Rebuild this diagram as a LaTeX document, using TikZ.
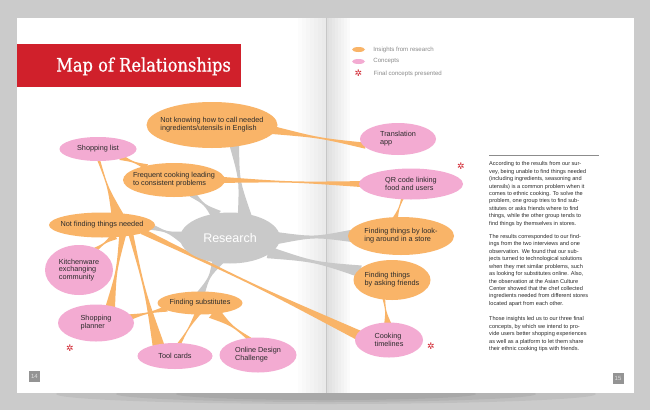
\documentclass[tikz,border=0pt]{standalone}
\usepackage{fontspec}
\setsansfont{Liberation Sans}
\newfontfamily\titlefont[FakeStretch=0.88,FakeBold=0.7]{DejaVu Serif}
\newfontfamily\symfont{DejaVu Sans}
\usetikzlibrary{shapes.geometric,calc,positioning}

\definecolor{desk}{HTML}{CBCBCB}
\definecolor{insight}{HTML}{F9B468}
\definecolor{concept}{HTML}{F3ABD2}
\definecolor{research}{HTML}{C9C9C9}
\definecolor{titlered}{HTML}{D0202B}
\definecolor{ink}{HTML}{2B2B2B}
\definecolor{keytext}{HTML}{8A8A8A}

\pgfdeclarelayer{paper}
\pgfdeclarelayer{links}
\pgfsetlayers{paper,links,main}

\tikzset{
  insight node/.style={ellipse, fill=insight, inner sep=0pt},
  concept node/.style={ellipse, fill=concept, inner sep=0pt},
  hub node/.style={ellipse, fill=research, inner sep=0pt, text=white,
    font=\sffamily\fontsize{12.5}{14}\selectfont},
  oval/.style 2 args={minimum width=#1, minimum height=#2},
  map text/.style={font=\sffamily\fontsize{7.3}{7.8}\selectfont, align=left,
    text=ink, inner sep=0pt},
  final mark/.style={text=titlered, font=\symfont\fontsize{9}{9}\selectfont, inner sep=0pt},
  key text/.style={font=\sffamily\fontsize{6.1}{7}\selectfont, text=keytext, inner sep=0pt},
  column text/.style={font=\sffamily\fontsize{5.6}{7.45}\selectfont, align=left,
    text=ink, inner sep=0pt, anchor=north west},
  page number/.style={fill=black!42, text=black!12, font=\sffamily\fontsize{6}{6}\selectfont,
    minimum size=11, inner sep=0pt},
  gray link/.style={fill=research},
  orange link/.style={fill=insight},
}

% branch of the map: from, to, half width at from, half width at to, style
\newcommand\mapbranch[5]{%
  \coordinate (br from) at ($(#1)!-3pt!(#2)$);
  \coordinate (br to) at ($(#2)!-3pt!(#1)$);
  \fill[#5] ($(br from)!#3pt!90:(br to)$) .. controls ($(br from)!0.5!(br to)$) .. ($(br to)!#4pt!-90:(br from)$)
    -- ($(br to)!#4pt!90:(br from)$) .. controls ($(br from)!0.5!(br to)$) .. ($(br from)!#3pt!-90:(br to)$) -- cycle;}

\begin{document}
\begin{tikzpicture}[x=1pt, y=-1pt]
  \useasboundingbox (0,0) rectangle (650,410);

  % the open book
  \begin{pgfonlayer}{paper}
    \fill[desk] (0,0) rectangle (650,410);
    \foreach \r/\h in {270/10, 210/8, 150/6}
      \fill[black, opacity=0.06] (326,394) ellipse [x radius=\r, y radius=\h];
    \fill[white] (17,17.5) rectangle (634,393);
    \foreach \w in {4,8,...,28}
      \fill[black, opacity=0.011] (326-\w,17.5) rectangle (326,393);
    \foreach \w in {3,6,...,24}
      \fill[black, opacity=0.014] (326,17.5) rectangle (326+\w,393);
    \draw[black!22, line width=0.8] (326,17.5) -- (326,393);
  \end{pgfonlayer}

  % title
  \fill[titlered] (17,44) rectangle (241,87);
  \node[anchor=base west, text=white, inner sep=0pt,
    font=\titlefont\fontsize{18.5}{20}\selectfont] (title) at (56,71.5) {Map of Relationships};

  % legend
  \node[insight node, oval={13}{5}] (keyA) at (358.5,49.5) {};
  \node[key text, right=8pt of keyA] (keyAtext) {Insights from research};
  \node[concept node, oval={13}{5}] (keyB) at (358.5,61.5) {};
  \node[key text, right=8pt of keyB] (keyBtext) {Concepts};
  \node[final mark] (keyC) at (358.5,73.5) {✲};
  \node[key text, right=11pt of keyC] (keyCtext) {Final concepts presented};

  % map
  \node[hub node, oval={100}{51}] (research) at (230,238) {Research};
  \node[insight node, oval={131}{46}, label={[map text]center:{Not knowing how to call needed\\ingredients/utensils in English}}] (know) at (212,125) {};
  \node[insight node, oval={102}{34}, label={[map text]center:{Frequent cooking leading\\to consistent problems}}] (freq) at (174,180) {};
  \node[insight node, oval={106}{25}, label={[map text]center:{Not finding things needed}}] (notfind) at (102,225) {};
  \node[insight node, oval={106}{38}, label={[map text]center:{Finding things by look-\\ing around in a store}}] (look) at (401,236) {};
  \node[insight node, oval={77}{40}, label={[map text]center:{Finding things\\by asking friends}}] (ask) at (392,280) {};
  \node[insight node, oval={85}{23}, label={[map text]center:{Finding substitutes}}] (subst) at (200,303) {};
  \node[concept node, oval={76}{32}, label={[map text]center:{Translation\\app}}] (transl) at (398,139) {};
  \node[concept node, oval={77}{24}, label={[map text]center:{Shopping list}}] (shoplist) at (98,149) {};
  \node[concept node, oval={104}{31}, label={[map text]center:{QR code linking\\food and users}}] (qr) at (411,184) {};
  \node[concept node, oval={68}{50}, label={[map text]center:{Kitchenware\\exchanging\\community}}] (kitchen) at (79,270) {};
  \node[concept node, oval={76}{37}, label={[map text]center:{Shopping\\planner}}] (planner) at (96,323) {};
  \node[concept node, oval={75}{26}, label={[map text]center:{Tool cards}}] (tool) at (175,356) {};
  \node[concept node, oval={77}{35}, label={[map text]center:{Online Design\\Challenge}}] (online) at (258,355) {};
  \node[concept node, oval={68}{35}, label={[map text]center:{Cooking\\timelines}}] (cooking) at (389,340) {};

  \node[final mark] (finalA) at (461,166) {✲};
  \node[final mark] (finalB) at (70,348) {✲};
  \node[final mark] (finalC) at (431,346) {✲};

  \begin{pgfonlayer}{links}
    \mapbranch{research.60}{know.-44}{7}{5}{gray link}
    \mapbranch{research.122}{freq.-38}{6}{3.5}{gray link}
    \mapbranch{research.178}{notfind.-3}{6}{3}{gray link}
    \mapbranch{research.0}{look.180}{6}{6}{gray link}
    \mapbranch{research.-20}{ask.165}{6}{6}{gray link}
    \mapbranch{research.-118}{subst.80}{6}{4}{gray link}
    \mapbranch{know.-5}{transl.190}{4}{3}{orange link}
    \mapbranch{freq.0}{qr.180}{3}{3}{orange link}
    \mapbranch{freq.155}{shoplist.-20}{3}{3}{orange link}
    \mapbranch{notfind.40}{shoplist.-85}{6}{1.5}{orange link}
    \mapbranch{notfind.-50}{kitchen.50}{4}{2.5}{orange link}
    \mapbranch{notfind.-30}{planner.50}{3.5}{5}{orange link}
    \mapbranch{notfind.-20}{tool.145}{2.5}{6}{orange link}
    \mapbranch{notfind.-10}{cooking.170}{3}{5}{orange link}
    \mapbranch{qr.-120}{look.105}{1.5}{3}{orange link}
    \mapbranch{ask.-112}{cooking.95}{1.5}{4}{orange link}
    \mapbranch{subst.190}{planner.10}{3}{3}{orange link}
    \mapbranch{subst.-105}{tool.70}{3}{2}{orange link}
    \mapbranch{subst.-35}{online.120}{7}{2}{orange link}
  \end{pgfonlayer}

  % text column
  \draw[black!45, line width=0.6] (489,155) -- (599,155);
  \node[column text] (colA) at (489,161.4) {According to the results from our sur-\\vey, being unable to find things needed\\(including ingredients, seasoning and\\utensils) is a common problem when it\\comes to ethnic cooking. To solve the\\problem, one group tries to find sub-\\stitutes or asks friends where to find\\things, while the other group tends to\\find things by themselves in stores.};
  \node[column text] (colB) at (489,234.1) {The results corresponded to our find-\\ings from the two interviews and one\\observation. We found that our sub-\\jects turned to technological solutions\\when they met similar problems, such\\as looking for substitutes online. Also,\\the observation at the Asian Culture\\Center showed that the chef collected\\ingredients needed from different stores\\located apart from each other.};
  \node[column text] (colC) at (489,316.4) {Those insights led us to our three final\\concepts, by which we intend to pro-\\vide users better shopping experiences\\as well as a platform to let them share\\their ethnic cooking tips with friends.};

  % page numbers
  \node[page number] (pageL) at (34.5,376.5) {14};
  \node[page number] (pageR) at (618,378) {15};
\end{tikzpicture}
\end{document}
